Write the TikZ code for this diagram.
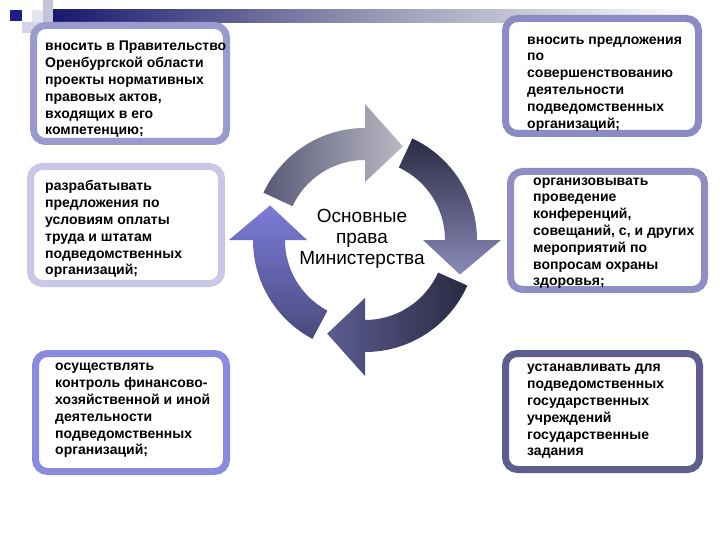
\documentclass[tikz,border=0pt]{standalone}
\usepackage{fontspec}
\setmainfont{Liberation Sans}
\definecolor{bcA}{HTML}{9A9ACE}
\definecolor{bcB}{HTML}{8A8AC4}
\definecolor{bcC}{HTML}{C8C8E6}
\definecolor{bcD}{HTML}{8E8EC4}
\definecolor{bcE}{HTML}{8A8ADE}
\definecolor{bcF}{HTML}{5E5E8E}
\definecolor{navy}{HTML}{1F1F8A}
\definecolor{stripA}{HTML}{C4C4D8}
\definecolor{stripB}{HTML}{D4D4E4}
\tikzset{
  frame/.style={draw=#1, line width=7pt, rounded corners=12pt, fill=white, inner sep=0pt},
  boxtext/.style={anchor=north west, align=left, inner sep=0pt,
    font=\bfseries\fontsize{14}{16.8}\selectfont},
  ctrtext/.style={anchor=north, align=center, inner sep=0pt,
    font=\fontsize{19}{21}\selectfont}
}
\begin{document}
\begin{tikzpicture}[x=1pt,y=-1pt]
\useasboundingbox (0,0) rectangle (720,540);
\fill[white] (0,0) rectangle (720,540);
% top-left decoration
\fill[stripB] (22,22) rectangle (53,33);
\fill[stripA] (43,0) rectangle (53,33);
\fill[stripB!60!white] (32,10) rectangle (43,22);
\shade[left color=navy!80!black, right color=white, middle color=navy!45!gray!60]
  (53,10) rectangle (700,23);
\fill[navy] (10,10) rectangle (22,21);
% frames
\node[frame=bcA, minimum width=193pt, minimum height=116pt] (b1) at (130,83.5) {};
\node[frame=bcB, minimum width=193pt, minimum height=115pt] (b2) at (602,76) {};
\node[frame=bcC, minimum width=191pt, minimum height=117pt] (b3) at (126,225) {};
\node[frame=bcD, minimum width=194pt, minimum height=118pt] (b4) at (607.5,230.5) {};
\node[frame=bcE, minimum width=191pt, minimum height=118pt] (b5) at (131,412.5) {};
\node[frame=bcF, minimum width=194pt, minimum height=116pt] (b6) at (602.5,411.5) {};
% texts
\node[boxtext] (t1) at (45,38.9) {\strut вносить в Правительство\\Оренбургской области\\проекты нормативных\\правовых актов,\\входящих в его\\компетенцию;};
\node[boxtext] (t2) at (527,32.2) {\strut вносить предложения\\по\\совершенствованию\\деятельности\\подведомственных\\организаций;};
\node[boxtext] (t3) at (45,178.9) {\strut разрабатывать\\предложения по\\условиям оплаты\\труда и штатам\\подведомственных\\организаций;};
\node[boxtext] (t4) at (533,173.2) {\strut организовывать\\проведение\\конференций,\\совещаний, с, и других\\мероприятий по\\вопросам охраны\\здоровья;};
\node[boxtext] (t5) at (55,358.9) {\strut осуществлять\\контроль финансово-\\хозяйственной и иной\\деятельности\\подведомственных\\организаций;};
\node[boxtext] (t6) at (527,359.9) {\strut устанавливать для\\подведомственных\\государственных\\учреждений\\государственные\\задания};
% cycle
\begin{scope}[shift={(365,240)}, x=1pt, y=1pt]
\path[left color=black!60!blue!30!gray, right color=black!20!blue!10!gray!50]
  (155:112) arc[start angle=155, end angle=90, radius=112] -- (90:136) -- (68:101)
  -- (90:58) -- (90:80) arc[start angle=90, end angle=155, radius=80] -- cycle;
\path[top color={rgb,255:red,43;green,43;blue,69}, bottom color={rgb,255:red,138;green,138;blue,184}]
  (65:112) arc[start angle=65, end angle=0, radius=112] -- (0:136) -- (-20:101)
  -- (0:58) -- (0:80) arc[start angle=0, end angle=65, radius=80] -- cycle;
\path[left color={rgb,255:red,92;green,92;blue,146}, right color={rgb,255:red,42;green,42;blue,66}]
  (-24:112) arc[start angle=-24, end angle=-90, radius=112] -- (-90:136) -- (-112:101)
  -- (-90:58) -- (-90:80) arc[start angle=-90, end angle=-24, radius=80] -- cycle;
\path[top color={rgb,255:red,123;green,123;blue,216}, bottom color={rgb,255:red,74;green,74;blue,126}]
  (-118:112) arc[start angle=-118, end angle=-180, radius=112] -- (-180:136) -- (-200:101)
  -- (-180:58) -- (-180:80) arc[start angle=-180, end angle=-118, radius=80] -- cycle;
\end{scope}
\node[ctrtext] (ctr) at (362,208) {\strut Основные\\права\\Министерства};
\end{tikzpicture}
\end{document}
